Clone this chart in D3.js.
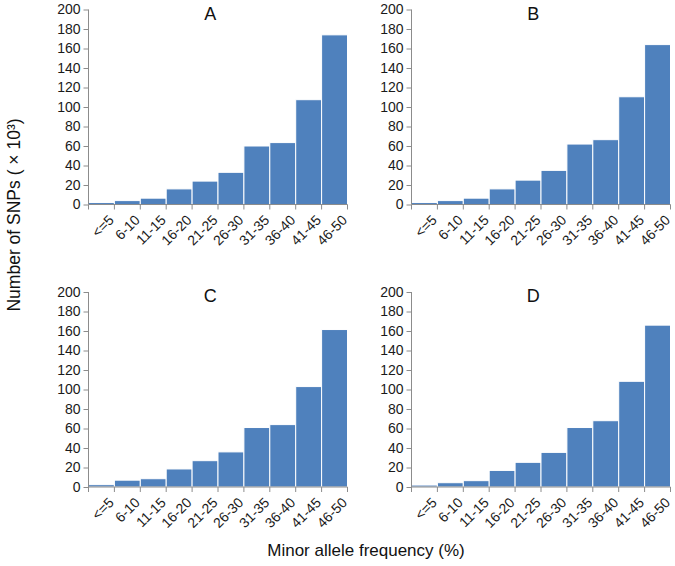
<!DOCTYPE html>
<html>
<head>
<meta charset="utf-8">
<script src="https://cdn.jsdelivr.net/npm/d3@7"></script>
<style>
  html, body { margin: 0; padding: 0; background: #fff; }
  svg { display: block; font-family: "Liberation Sans", Arial, sans-serif; }
</style>
</head>
<body>
<svg id="chart" width="675" height="566"></svg>
<script>
const categories = ["<=5","6-10","11-15","16-20","21-25","26-30","31-35","36-40","41-45","46-50"];
const panelTitles = ["A","B","C","D"];
const seriesA = [2, 4, 6.5, 16, 24, 33, 60, 63.5, 107.5, 174];
const seriesB = [2, 4, 6.5, 16, 25, 35, 62, 66.5, 110.5, 164];
const seriesC = [2.4, 7, 8.5, 18.5, 27, 36, 61, 64, 103, 161.5];
const seriesD = [2, 4.4, 6.5, 17, 25.3, 35.5, 61, 68, 108.4, 166];
const yTicks = [0, 20, 40, 60, 80, 100, 120, 140, 160, 180, 200];
const yLabel = "Number of SNPs ( \u00d7 10\u00b3)";
const xLabel = "Minor allele frequency (%)";

const allSeries = [seriesA, seriesB, seriesC, seriesD];
const svg = d3.select("#chart");

const colX = [88.5, 411.5];
const rowY = [9.5, 292];
const pw = 259, ph = 195;
const barColor = "#4F81BD";
const axisColor = "#8c8c8c";
const FONT = "'Liberation Sans', Arial, sans-serif";

allSeries.forEach((vals, i) => {
  const gx = colX[i % 2], gy = rowY[Math.floor(i / 2)];
  const g = svg.append("g").attr("transform", `translate(${gx},${gy})`);
  const x = d3.scaleBand().domain(categories).range([0, pw]).padding(0);
  const y = d3.scaleLinear().domain([0, 200]).range([ph, 0]);

  g.selectAll("rect.bar").data(vals).join("rect")
    .attr("class", "bar")
    .attr("x", (d, j) => x(categories[j]))
    .attr("width", x.bandwidth())
    .attr("y", d => y(d))
    .attr("height", d => ph - y(d))
    .attr("fill", barColor)
    .attr("stroke", "#fff")
    .attr("stroke-width", 1);

  // y axis
  const ya = g.append("g").call(d3.axisLeft(y).tickValues(yTicks).tickSize(5).tickPadding(3));
  ya.select(".domain").attr("stroke", axisColor).attr("d", `M0,${ph}V0`);
  ya.selectAll(".tick line").attr("stroke", axisColor);
  ya.selectAll(".tick text").attr("font-size", 14).attr("fill", "#1a1a1a")
    .attr("font-family", FONT);

  // x axis
  const xa = g.append("g").attr("transform", `translate(0,${ph})`)
    .call(d3.axisBottom(x).tickSize(0).tickFormat(""));
  xa.select(".domain").attr("stroke", axisColor).attr("d", `M0,0H${pw}`);
  xa.selectAll(".tick").remove();
  const bounds = d3.range(categories.length + 1).map(k => k * x.step());
  xa.selectAll("line.bt").data(bounds).join("line")
    .attr("class", "bt")
    .attr("x1", d => d).attr("x2", d => d)
    .attr("y1", 0).attr("y2", 5)
    .attr("stroke", axisColor);
  xa.selectAll("text.xl").data(categories).join("text")
    .attr("class", "xl")
    .attr("transform", d => `translate(${x(d) + x.bandwidth() / 2 + 6},${9}) rotate(-45)`)
    .attr("text-anchor", "end")
    .attr("dy", "0.75em")
    .attr("font-size", 14)
    .attr("font-family", FONT)
    .attr("fill", "#1a1a1a")
    .text(d => d);

  g.append("text")
    .attr("x", pw * 0.47)
    .attr("y", 10)
    .attr("text-anchor", "middle")
    .attr("font-size", 18)
    .attr("font-family", FONT)
    .attr("fill", "#111")
    .text(panelTitles[i]);
});

svg.append("text")
  .attr("transform", "translate(20,215) rotate(-90)")
  .attr("text-anchor", "middle")
  .attr("font-size", 17.5)
  .attr("font-family", FONT)
  .attr("fill", "#111")
  .text(yLabel);

svg.append("text")
  .attr("x", 366)
  .attr("y", 556)
  .attr("text-anchor", "middle")
  .attr("font-size", 17)
  .attr("font-family", FONT)
  .attr("fill", "#111")
  .text(xLabel);
</script>
</body>
</html>
